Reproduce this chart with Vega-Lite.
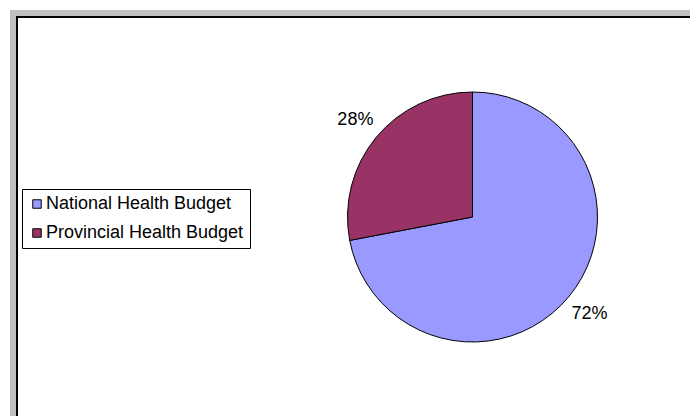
{
  "$schema": "https://vega.github.io/schema/vega-lite/v6.json",
  "autosize": "none",
  "padding": {"left": 16, "top": 16, "right": 0, "bottom": 0},
  "width": 913,
  "height": 402,
  "background": "white",
  "config": {
    "view": {"stroke": null},
    "font": "Liberation Sans"
  },
  "data": {
    "values": [
      {"category": "National Health Budget", "share": 0.72},
      {"category": "Provincial Health Budget", "share": 0.28}
    ]
  },
  "layer": [
    {
      "data": {"values": [{}]},
      "mark": {"type": "rect", "fillOpacity": 0, "stroke": "#c0c0c0", "strokeWidth": 12},
      "encoding": {}
    },
    {
      "data": {"values": [{}]},
      "mark": {"type": "rect", "fillOpacity": 0, "stroke": "white", "strokeWidth": 12, "clip": true},
      "encoding": {}
    },
    {
      "data": {"values": [{}]},
      "mark": {"type": "rect", "fillOpacity": 0, "stroke": "black", "strokeWidth": 4, "clip": true},
      "encoding": {}
    },
    {
      "mark": {"type": "arc", "outerRadius": 125, "stroke": "black", "strokeWidth": 1},
      "encoding": {
        "theta": {"field": "share", "type": "quantitative", "stack": true},
        "color": {
          "field": "category",
          "type": "nominal",
          "scale": {"domain": ["National Health Budget", "Provincial Health Budget"], "range": ["#9999FF", "#993366"]},
          "legend": {
            "title": null,
            "orient": "none",
            "legendX": 6,
            "legendY": 173,
            "fillColor": "white",
            "strokeColor": "black",
            "padding": 6,
            "rowPadding": 11,
            "symbolType": "square",
            "symbolSize": 72,
            "symbolStrokeColor": "black",
            "symbolStrokeWidth": 1,
            "symbolOpacity": 1,
            "labelFontSize": 18,
            "labelFont": "Liberation Sans",
            "labelColor": "black",
            "labelOffset": 0,
            "labelLimit": 0
          }
        },
        "order": {"field": "category", "sort": "ascending"}
      }
    },
    {
      "mark": {"type": "text", "radius": 152, "fontSize": 18, "font": "Liberation Sans", "color": "black", "align": "center", "baseline": "middle"},
      "encoding": {
        "theta": {"field": "share", "type": "quantitative", "stack": true},
        "order": {"field": "category", "sort": "ascending"},
        "detail": {"field": "category"},
        "text": {"field": "share", "type": "quantitative", "format": ".0%"}
      }
    }
  ]
}
